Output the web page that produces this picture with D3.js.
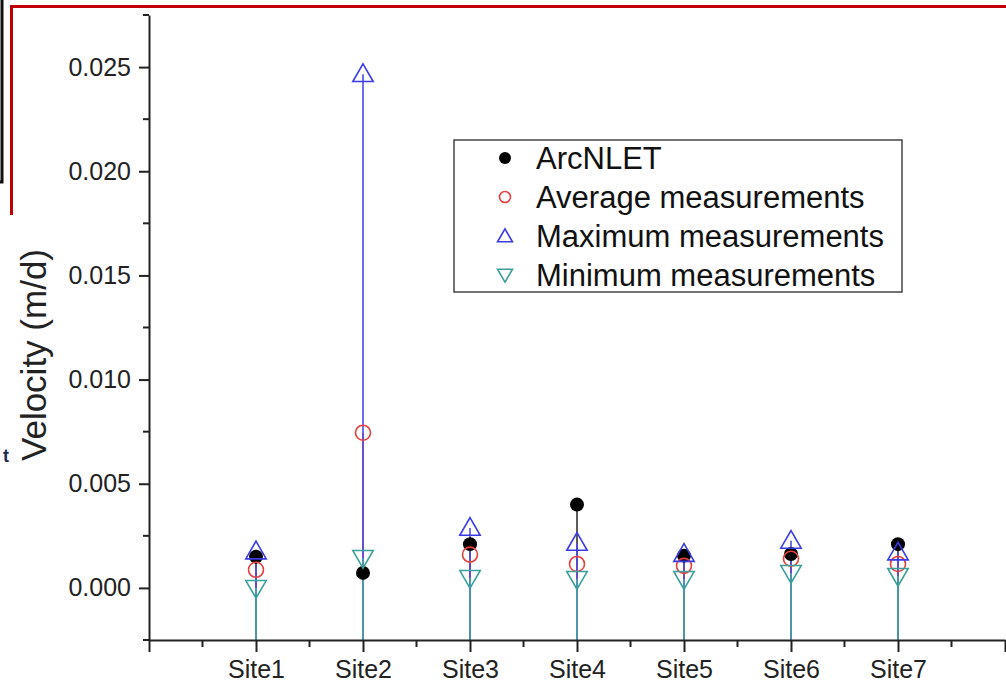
<!DOCTYPE html>
<html>
<head>
<meta charset="utf8">
<title>Velocity by site</title>
<style>
  body { margin: 0; background: #fff; }
  svg { display: block; font-family: "Liberation Sans", Arial, sans-serif; }
  .axis path, .axis line { stroke: #222; stroke-width: 2px; }
  .axis text { font-size: 25px; fill: #222; }
</style>
</head>
<body>
<svg width="1006" height="690"></svg>
<script src="https://d3js.org/d3.v7.min.js"></script>
<script>
// values (m/d)
var sites = ["Site1", "Site2", "Site3", "Site4", "Site5", "Site6", "Site7"];
var arcnlet = [0.00150, 0.00072, 0.00210, 0.00400, 0.00155, 0.00163, 0.00210];
var avgMeas = [0.00087, 0.00745, 0.00160, 0.00115, 0.00106, 0.00140, 0.00115];
var maxMeas = [0.00175, 0.02466, 0.00288, 0.00216, 0.00163, 0.00226, 0.00170];
var minMeas = [0.00000, 0.00144, 0.00048, 0.00043, 0.00043, 0.00072, 0.00058];
var seriesNames = ["ArcNLET", "Average measurements", "Maximum measurements", "Minimum measurements"];
var yMajor = [0, 0.005, 0.010, 0.015, 0.020, 0.025];

var svg = d3.select("svg");

var x = d3.scaleLinear().domain([0, 8]).range([149, 1005]);
var y = d3.scaleLinear().domain([-0.0025, 0.0275]).range([640, 15]);

// series styling
var series = [
  {name: seriesNames[0], values: arcnlet, color: "#000", line: "#333", shape: "dot"},
  {name: seriesNames[1], values: avgMeas, color: "#e8403c", line: "#e8403c", shape: "circle"},
  {name: seriesNames[2], values: maxMeas, color: "#3a3ae8", line: "#4a4af0", shape: "up"},
  {name: seriesNames[3], values: minMeas, color: "#3a9e9a", line: "#48a8a4", shape: "down"}
];

// screenshot frame bits around the figure
svg.append("path").attr("d", "M2,0V182H0").attr("fill", "none").attr("stroke", "#111").attr("stroke-width", 3);
svg.append("path").attr("d", "M11.5,215V6.5H1006").attr("fill", "none").attr("stroke", "#c00000").attr("stroke-width", 3);
svg.append("text").attr("x", 3).attr("y", 462).attr("font-size", 18).attr("font-weight", "bold")
  .attr("fill", "#1a2a50").text("t");

// drop lines from every marker to the bottom axis
series.forEach(function(s) {
  svg.append("g").selectAll("line")
    .data(s.values)
    .enter().append("line")
    .attr("x1", function(d, i) { return x(i + 1); })
    .attr("x2", function(d, i) { return x(i + 1); })
    .attr("y1", function(d) { return y(d); })
    .attr("y2", y(-0.0025))
    .attr("stroke", s.line)
    .attr("stroke-width", 1.6);
});

function drawMarker(g, shape, color, cx, cy, r) {
  if (shape === "dot") {
    g.append("circle").attr("cx", cx).attr("cy", cy).attr("r", r).attr("fill", color);
  } else if (shape === "circle") {
    g.append("circle").attr("cx", cx).attr("cy", cy).attr("r", r)
      .attr("fill", "none").attr("stroke", color).attr("stroke-width", 1.6);
  } else {
    var sym = d3.symbol().type(d3.symbolTriangle).size(r * r * 3.2);
    g.append("path").attr("d", sym())
      .attr("transform", "translate(" + cx + "," + (cy + (shape === "up" ? 1.5 : -1.5)) + ")" + (shape === "down" ? " rotate(180)" : ""))
      .attr("fill", "none").attr("stroke", color).attr("stroke-width", 1.6);
  }
}

var marks = svg.append("g");
series.forEach(function(s) {
  s.values.forEach(function(v, i) {
    drawMarker(marks, s.shape, s.color, x(i + 1), y(v), s.shape === "dot" ? 7 : 7.5);
  });
});

// axes
var yAxis = d3.axisLeft(y).tickValues(yMajor).tickFormat(d3.format(".3f")).tickSize(10).tickPadding(8).tickSizeOuter(0);
var gy = svg.append("g").attr("class", "axis").attr("transform", "translate(" + x(0) + ",0)").call(yAxis);
gy.selectAll(".minor").data(d3.range(-0.0025, 0.028, 0.005)).enter().append("line")
  .attr("class", "minor").attr("x1", 0).attr("x2", -6)
  .attr("y1", function(d) { return y(d); }).attr("y2", function(d) { return y(d); });

var xAxis = d3.axisBottom(x).tickValues(d3.range(0, 9)).tickSize(12).tickPadding(8).tickSizeOuter(0)
  .tickFormat(function(d) { return d >= 1 && d <= 7 ? sites[d - 1] : ""; });
var gx = svg.append("g").attr("class", "axis").attr("transform", "translate(0," + y(-0.0025) + ")").call(xAxis);
gx.selectAll(".minor").data(d3.range(0.5, 8, 1)).enter().append("line")
  .attr("class", "minor").attr("y1", 0).attr("y2", 7)
  .attr("x1", function(d) { return x(d); }).attr("x2", function(d) { return x(d); });

svg.append("text")
  .attr("transform", "translate(46,355) rotate(-90)")
  .attr("text-anchor", "middle")
  .attr("font-size", 35)
  .attr("fill", "#222")
  .text("Velocity (m/d)");

// legend
var legend = svg.append("g").attr("transform", "translate(454,140)");
legend.append("rect").attr("width", 448).attr("height", 152)
  .attr("fill", "none").attr("stroke", "#444").attr("stroke-width", 1.5);
series.forEach(function(s, i) {
  var ly = 18 + i * 39;
  drawMarker(legend, s.shape, s.color, 51, ly, s.shape === "dot" ? 6 : 5.5);
  legend.append("text").attr("x", 82).attr("y", ly + 11)
    .attr("font-size", 31).attr("fill", "#111").text(s.name);
});
</script>
</body>
</html>
